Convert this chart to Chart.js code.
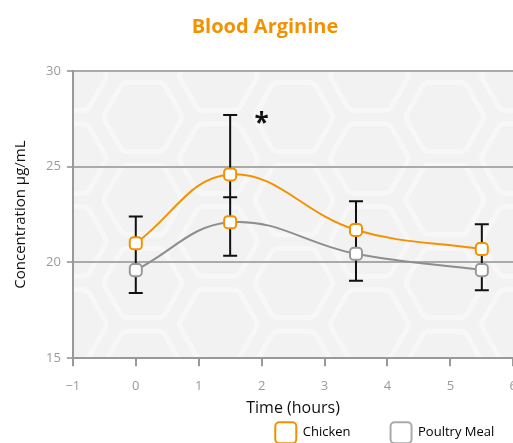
<!DOCTYPE html>
<html>
<head>
<meta charset="utf-8">
<script src="https://cdn.jsdelivr.net/npm/chart.js@4.4.1/dist/chart.umd.min.js"></script>
<style>
  html, body { margin: 0; padding: 0; background: #fff; overflow: hidden; }
  #wrap { width: 529px; height: 509px; }
</style>
</head>
<body>
<div id="wrap"><canvas id="arginine"></canvas></div>
<script>
// Blood arginine over time

const hours = [0, 1.5, 3.5, 5.5];
const chicken = [21.0, 24.6, 21.7, 20.7];
const poultryMeal = [19.6, 22.1, 20.45, 19.6];

// error bar ends
const chickenUpper = [22.4, 27.7, 23.2, 22.0];
const poultryUpper = [null, 23.4, null, null];
const poultryLower = [18.4, 20.35, 19.05, 18.55];

const xTicks = [-1, 0, 1, 2, 3, 4, 5, 6];
const yTicks = [15, 20, 25, 30];

const sigMark = { x: 2, y: 27.5, text: '*' };

const orange = '#f39200';
const grey = '#8e8e8e';

const hexBackground = {
    id: 'hexBackground',
    beforeDraw(chart) {
        const { ctx, chartArea: a } = chart;
        ctx.save();
        ctx.beginPath();
        ctx.rect(a.left, a.top, a.right - a.left, a.bottom - a.top);
        ctx.clip();
        ctx.fillStyle = '#f2f2f2';
        ctx.fillRect(a.left, a.top, a.right - a.left, a.bottom - a.top);
        ctx.strokeStyle = '#f7f7f7';
        ctx.lineWidth = 5;
        const r = 40, dx = 75.5, dy = 83;
        const x0 = a.left + 70, y0 = a.top + 46;
        for (let i = -2; i < 9; i++) {
            for (let j = -2; j < 6; j++) {
                const cx = x0 + i * dx;
                const cy = y0 + j * dy + (Math.abs(i) % 2 ? -dy / 2 : 0);
                const pts = [];
                for (let k = 0; k < 6; k++) {
                    const ang = Math.PI / 3 * k;
                    pts.push([cx + r * Math.cos(ang), cy + r * Math.sin(ang)]);
                }
                ctx.beginPath();
                ctx.moveTo((pts[5][0] + pts[0][0]) / 2, (pts[5][1] + pts[0][1]) / 2);
                for (let k = 0; k < 6; k++) {
                    const p = pts[k], q = pts[(k + 1) % 6];
                    ctx.arcTo(p[0], p[1], q[0], q[1], 9);
                }
                ctx.closePath();
                ctx.stroke();
            }
        }
        ctx.restore();
    }
};

const errorBars = {
    id: 'errorBars',
    beforeDatasetsDraw(chart) {
        const { ctx, scales: { x, y } } = chart;
        ctx.save();
        ctx.strokeStyle = '#111';
        ctx.lineWidth = 2;
        hours.forEach((h, i) => {
            const px = x.getPixelForValue(h);
            ctx.beginPath();
            ctx.moveTo(px, y.getPixelForValue(chickenUpper[i]));
            ctx.lineTo(px, y.getPixelForValue(poultryLower[i]));
            [chickenUpper[i], poultryUpper[i], poultryLower[i]].forEach(v => {
                if (v === null) return;
                const py = y.getPixelForValue(v);
                ctx.moveTo(px - 7, py);
                ctx.lineTo(px + 7, py);
            });
            ctx.stroke();
        });
        ctx.fillStyle = '#111';
        ctx.font = 'bold 26px "Open Sans"';
        ctx.textAlign = 'center';
        ctx.textBaseline = 'middle';
        ctx.fillText(sigMark.text, x.getPixelForValue(sigMark.x), y.getPixelForValue(sigMark.y) + 6);
        ctx.restore();
    }
};

// legend sits right under the axis title, off to the right
const legendPlace = {
    id: 'legendPlace',
    afterLayout(chart) {
        const lg = chart.legend, a = chart.chartArea;
        const dx = a.right + 21 - lg.right;
        const dy = a.bottom + 24 - lg.top;
        lg.left += dx; lg.right += dx;
        lg.top += dy; lg.bottom += dy;
    }
};

new Chart(document.getElementById('arginine'), {
    type: 'line',
    data: {
        datasets: [{
            label: 'Chicken',
            data: hours.map((h, i) => ({ x: h, y: chicken[i] })),
            borderColor: orange,
            backgroundColor: '#fff',
            borderWidth: 2,
            tension: 0.4,
            pointStyle: 'rectRounded',
            pointRadius: 7,
            pointBorderWidth: 2,
            pointBorderColor: orange,
            pointBackgroundColor: '#fff'
        }, {
            label: 'Poultry Meal',
            data: hours.map((h, i) => ({ x: h, y: poultryMeal[i] })),
            borderColor: grey,
            backgroundColor: '#fff',
            borderWidth: 2,
            tension: 0.4,
            pointStyle: 'rectRounded',
            pointRadius: 7,
            pointBorderWidth: 2,
            pointBorderColor: ['#999', orange, '#999', '#999'],
            pointBackgroundColor: '#fff'
        }]
    },
    options: {
        responsive: true,
        maintainAspectRatio: false,
        animation: false,
        layout: { padding: { left: 1, right: 0, top: 15, bottom: 0 } },
        plugins: {
            title: {
                display: true,
                text: 'Blood Arginine',
                color: orange,
                font: { family: 'Open Sans', size: 20, weight: 'bold' },
                padding: { top: 0, bottom: 32 }
            },
            legend: {
                position: 'bottom',
                align: 'end',
                labels: {
                    boxWidth: 21,
                    boxHeight: 21,
                    padding: 40,
                    color: '#222',
                    font: { family: 'Open Sans', size: 13 },
                    generateLabels: chart => chart.data.datasets.map((ds, i) => ({
                        text: ds.label,
                        fillStyle: '#fff',
                        strokeStyle: i === 0 ? orange : '#aaa',
                        lineWidth: 2,
                        borderRadius: 4,
                        datasetIndex: i
                    }))
                }
            },
            tooltip: { enabled: false }
        },
        scales: {
            x: {
                type: 'linear',
                min: -1,
                max: 6,
                afterBuildTicks: s => { s.ticks = xTicks.map(v => ({ value: v })); },
                ticks: {
                    color: '#9a9a9a',
                    font: { family: 'Open Sans', size: 13 },
                    padding: 12,
                    callback: v => v < 0 ? '\u2212' + Math.abs(v) : v
                },
                grid: { drawOnChartArea: false, tickLength: 8, color: '#999', lineWidth: 2 },
                border: { color: '#999', width: 2 },
                title: {
                    display: true,
                    text: 'Time (hours)',
                    color: '#111',
                    font: { family: 'Open Sans', size: 16 },
                    padding: { top: -7, bottom: 20 }
                }
            },
            y: {
                min: 15,
                max: 30,
                afterBuildTicks: s => { s.ticks = yTicks.map(v => ({ value: v })); },
                ticks: {
                    color: '#9a9a9a',
                    font: { family: 'Open Sans', size: 13 },
                    padding: 6
                },
                grid: { tickLength: 6, color: '#aaa', lineWidth: 2 },
                border: { color: '#999', width: 2 },
                title: {
                    display: true,
                    text: 'Concentration µg/mL',
                    color: '#111',
                    font: { family: 'Open Sans', size: 15 },
                    padding: { top: 11, bottom: 10 }
                }
            }
        }
    },
    plugins: [hexBackground, errorBars, legendPlace]
});
</script>
</body>
</html>
